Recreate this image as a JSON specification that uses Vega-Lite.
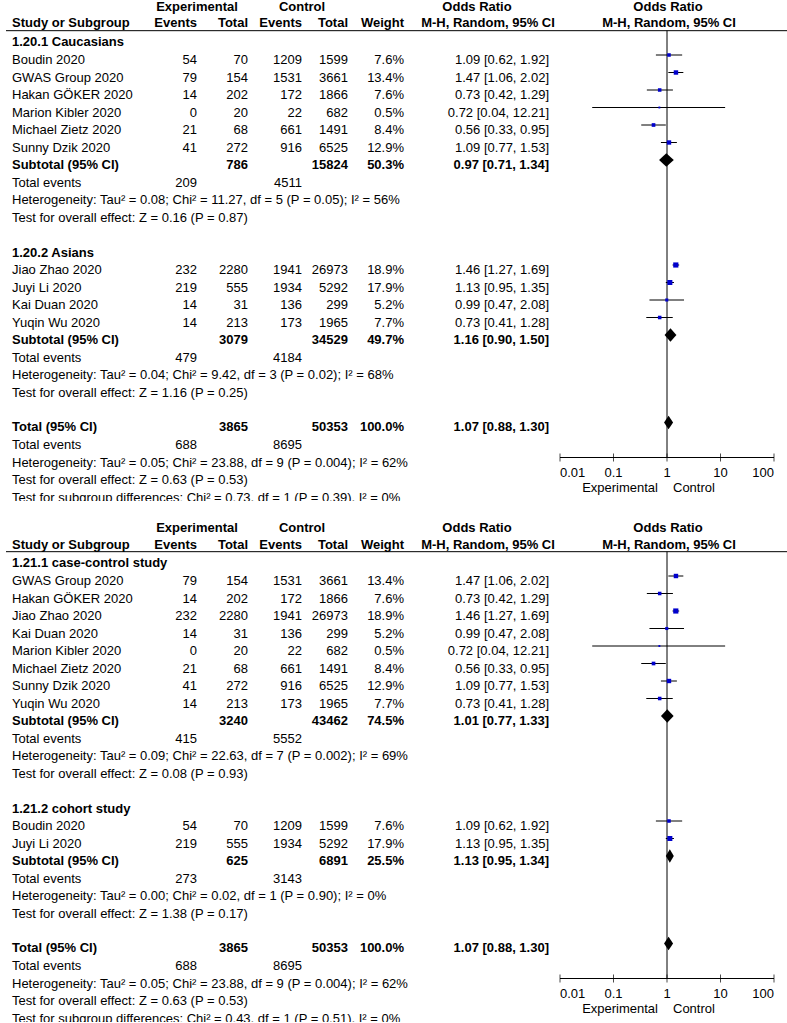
{
"$schema": "https://vega.github.io/schema/vega-lite/v6.json",
"background": "white",
"padding": 0,
"spacing": 20,
"config": {"view": {"stroke": null}, "text": {"font": "Liberation Sans", "fontSize": 13, "color": "#000000", "baseline": "alphabetic"}},
"datasets": {
"studies": [
{"panel":1,"row":1,"study":"Boudin 2020","e1":54,"n1":70,"e2":1209,"n2":1599,"w":0.076,"or":1.09,"lo":0.62,"hi":1.92,"ci":"1.09 [0.62, 1.92]"},
{"panel":1,"row":2,"study":"GWAS Group 2020","e1":79,"n1":154,"e2":1531,"n2":3661,"w":0.134,"or":1.47,"lo":1.06,"hi":2.02,"ci":"1.47 [1.06, 2.02]"},
{"panel":1,"row":3,"study":"Hakan GÖKER 2020","e1":14,"n1":202,"e2":172,"n2":1866,"w":0.076,"or":0.73,"lo":0.42,"hi":1.29,"ci":"0.73 [0.42, 1.29]"},
{"panel":1,"row":4,"study":"Marion Kibler 2020","e1":0,"n1":20,"e2":22,"n2":682,"w":0.005,"or":0.72,"lo":0.04,"hi":12.21,"ci":"0.72 [0.04, 12.21]"},
{"panel":1,"row":5,"study":"Michael Zietz 2020","e1":21,"n1":68,"e2":661,"n2":1491,"w":0.084,"or":0.56,"lo":0.33,"hi":0.95,"ci":"0.56 [0.33, 0.95]"},
{"panel":1,"row":6,"study":"Sunny Dzik 2020","e1":41,"n1":272,"e2":916,"n2":6525,"w":0.129,"or":1.09,"lo":0.77,"hi":1.53,"ci":"1.09 [0.77, 1.53]"},
{"panel":1,"row":13,"study":"Jiao Zhao 2020","e1":232,"n1":2280,"e2":1941,"n2":26973,"w":0.189,"or":1.46,"lo":1.27,"hi":1.69,"ci":"1.46 [1.27, 1.69]"},
{"panel":1,"row":14,"study":"Juyi Li 2020","e1":219,"n1":555,"e2":1934,"n2":5292,"w":0.179,"or":1.13,"lo":0.95,"hi":1.35,"ci":"1.13 [0.95, 1.35]"},
{"panel":1,"row":15,"study":"Kai Duan 2020","e1":14,"n1":31,"e2":136,"n2":299,"w":0.052,"or":0.99,"lo":0.47,"hi":2.08,"ci":"0.99 [0.47, 2.08]"},
{"panel":1,"row":16,"study":"Yuqin Wu 2020","e1":14,"n1":213,"e2":173,"n2":1965,"w":0.077,"or":0.73,"lo":0.41,"hi":1.28,"ci":"0.73 [0.41, 1.28]"},
{"panel":2,"row":1,"study":"GWAS Group 2020","e1":79,"n1":154,"e2":1531,"n2":3661,"w":0.134,"or":1.47,"lo":1.06,"hi":2.02,"ci":"1.47 [1.06, 2.02]"},
{"panel":2,"row":2,"study":"Hakan GÖKER 2020","e1":14,"n1":202,"e2":172,"n2":1866,"w":0.076,"or":0.73,"lo":0.42,"hi":1.29,"ci":"0.73 [0.42, 1.29]"},
{"panel":2,"row":3,"study":"Jiao Zhao 2020","e1":232,"n1":2280,"e2":1941,"n2":26973,"w":0.189,"or":1.46,"lo":1.27,"hi":1.69,"ci":"1.46 [1.27, 1.69]"},
{"panel":2,"row":4,"study":"Kai Duan 2020","e1":14,"n1":31,"e2":136,"n2":299,"w":0.052,"or":0.99,"lo":0.47,"hi":2.08,"ci":"0.99 [0.47, 2.08]"},
{"panel":2,"row":5,"study":"Marion Kibler 2020","e1":0,"n1":20,"e2":22,"n2":682,"w":0.005,"or":0.72,"lo":0.04,"hi":12.21,"ci":"0.72 [0.04, 12.21]"},
{"panel":2,"row":6,"study":"Michael Zietz 2020","e1":21,"n1":68,"e2":661,"n2":1491,"w":0.084,"or":0.56,"lo":0.33,"hi":0.95,"ci":"0.56 [0.33, 0.95]"},
{"panel":2,"row":7,"study":"Sunny Dzik 2020","e1":41,"n1":272,"e2":916,"n2":6525,"w":0.129,"or":1.09,"lo":0.77,"hi":1.53,"ci":"1.09 [0.77, 1.53]"},
{"panel":2,"row":8,"study":"Yuqin Wu 2020","e1":14,"n1":213,"e2":173,"n2":1965,"w":0.077,"or":0.73,"lo":0.41,"hi":1.28,"ci":"0.73 [0.41, 1.28]"},
{"panel":2,"row":15,"study":"Boudin 2020","e1":54,"n1":70,"e2":1209,"n2":1599,"w":0.076,"or":1.09,"lo":0.62,"hi":1.92,"ci":"1.09 [0.62, 1.92]"},
{"panel":2,"row":16,"study":"Juyi Li 2020","e1":219,"n1":555,"e2":1934,"n2":5292,"w":0.179,"or":1.13,"lo":0.95,"hi":1.35,"ci":"1.13 [0.95, 1.35]"}
],
"pooled": [
{"panel":1,"row":7,"label":"Subtotal (95% CI)","id":"p1a","n1":786,"n2":15824,"w":0.503,"or":0.97,"lo":0.71,"hi":1.34,"ci":"0.97 [0.71, 1.34]"},
{"panel":1,"row":17,"label":"Subtotal (95% CI)","id":"p1b","n1":3079,"n2":34529,"w":0.497,"or":1.16,"lo":0.90,"hi":1.50,"ci":"1.16 [0.90, 1.50]"},
{"panel":1,"row":22,"label":"Total (95% CI)","id":"tot","n1":3865,"n2":50353,"w":1.0,"or":1.07,"lo":0.88,"hi":1.30,"ci":"1.07 [0.88, 1.30]"},
{"panel":2,"row":9,"label":"Subtotal (95% CI)","id":"p2a","n1":3240,"n2":43462,"w":0.745,"or":1.01,"lo":0.77,"hi":1.33,"ci":"1.01 [0.77, 1.33]"},
{"panel":2,"row":17,"label":"Subtotal (95% CI)","id":"p2b","n1":625,"n2":6891,"w":0.255,"or":1.13,"lo":0.95,"hi":1.34,"ci":"1.13 [0.95, 1.34]"},
{"panel":2,"row":22,"label":"Total (95% CI)","id":"tot","n1":3865,"n2":50353,"w":1.0,"or":1.07,"lo":0.88,"hi":1.30,"ci":"1.07 [0.88, 1.30]"}
],
"events": [
{"panel":1,"row":8,"label":"Total events","e1":209,"e2":4511},
{"panel":1,"row":18,"label":"Total events","e1":479,"e2":4184},
{"panel":1,"row":23,"label":"Total events","e1":688,"e2":8695},
{"panel":2,"row":10,"label":"Total events","e1":415,"e2":5552},
{"panel":2,"row":18,"label":"Total events","e1":273,"e2":3143},
{"panel":2,"row":23,"label":"Total events","e1":688,"e2":8695}
],
"notes": [
{"panel":1,"row":0,"kind":"subgroup","text":"1.20.1 Caucasians"},
{"panel":1,"row":9,"kind":"stat","text":"Heterogeneity: Tau² = 0.08; Chi² = 11.27, df = 5 (P = 0.05); I² = 56%"},
{"panel":1,"row":10,"kind":"stat","text":"Test for overall effect: Z = 0.16 (P = 0.87)"},
{"panel":1,"row":12,"kind":"subgroup","text":"1.20.2 Asians"},
{"panel":1,"row":19,"kind":"stat","text":"Heterogeneity: Tau² = 0.04; Chi² = 9.42, df = 3 (P = 0.02); I² = 68%"},
{"panel":1,"row":20,"kind":"stat","text":"Test for overall effect: Z = 1.16 (P = 0.25)"},
{"panel":1,"row":24,"kind":"stat","text":"Heterogeneity: Tau² = 0.05; Chi² = 23.88, df = 9 (P = 0.004); I² = 62%"},
{"panel":1,"row":25,"kind":"stat","text":"Test for overall effect: Z = 0.63 (P = 0.53)"},
{"panel":1,"row":26,"kind":"stat","text":"Test for subgroup differences: Chi² = 0.73, df = 1 (P = 0.39), I² = 0%"},
{"panel":2,"row":0,"kind":"subgroup","text":"1.21.1 case-control study"},
{"panel":2,"row":11,"kind":"stat","text":"Heterogeneity: Tau² = 0.09; Chi² = 22.63, df = 7 (P = 0.002); I² = 69%"},
{"panel":2,"row":12,"kind":"stat","text":"Test for overall effect: Z = 0.08 (P = 0.93)"},
{"panel":2,"row":14,"kind":"subgroup","text":"1.21.2 cohort study"},
{"panel":2,"row":19,"kind":"stat","text":"Heterogeneity: Tau² = 0.00; Chi² = 0.02, df = 1 (P = 0.90); I² = 0%"},
{"panel":2,"row":20,"kind":"stat","text":"Test for overall effect: Z = 1.38 (P = 0.17)"},
{"panel":2,"row":24,"kind":"stat","text":"Heterogeneity: Tau² = 0.05; Chi² = 23.88, df = 9 (P = 0.004); I² = 62%"},
{"panel":2,"row":25,"kind":"stat","text":"Test for overall effect: Z = 0.63 (P = 0.53)"},
{"panel":2,"row":26,"kind":"stat","text":"Test for subgroup differences: Chi² = 0.43, df = 1 (P = 0.51), I² = 0%"}
],
"headers": [
{"row":-2,"col":1,"text":"Experimental"},
{"row":-2,"col":3,"text":"Control"},
{"row":-2,"col":6,"text":"Odds Ratio"},
{"row":-2,"col":8,"text":"Odds Ratio"},
{"row":-1,"col":0,"text":"Study or Subgroup"},
{"row":-1,"col":1,"text":"Events"},
{"row":-1,"col":2,"text":"Total"},
{"row":-1,"col":3,"text":"Events"},
{"row":-1,"col":4,"text":"Total"},
{"row":-1,"col":5,"text":"Weight"},
{"row":-1,"col":6,"text":"M-H, Random, 95% CI"},
{"row":-1,"col":8,"text":"M-H, Random, 95% CI"}
],
"ticks": [{"v":0.01},{"v":0.1},{"v":1},{"v":10},{"v":100}],
"reference": [{"or":1}],
"sides": [{"side":"Experimental"},{"side":"Control"}]
},
"vconcat": [
{
"width": 787, "height": 501,
"resolve": {"scale": {"x": "independent"}},
"layer": [
{"data":{"name":"headers"},"transform":[{"filter":"datum.col == 0"}],"mark":{"type":"rule","color":"#000000","strokeWidth":1},"encoding":{"x":{"datum":-1,"type":"quantitative","scale":{"domain":[-1,0,1,2,3,4,5,6,7],"range":[6,12,197,248,302,348,404,549,787],"nice":false,"zero":false},"axis":null},"x2":{"datum":7},"y":{"datum":-0.39,"type":"quantitative","scale":{"domain":[-2.142857,26.485714],"reverse":true,"nice":false,"zero":false},"axis":null}}},
{"data":{"name":"headers"},"transform":[{"filter":"datum.col == 0"}],"mark":{"type":"text","align":"left","fontWeight":"bold","dy":7.5,"clip":true},"encoding":{"x":{"field":"col","type":"quantitative","scale":{"domain":[-1,0,1,2,3,4,5,6,7],"range":[6,12,197,248,302,348,404,549,787],"nice":false,"zero":false},"axis":null},"y":{"field":"row","type":"quantitative","scale":{"domain":[-2.142857,26.485714],"reverse":true,"nice":false,"zero":false},"axis":null},"text":{"field":"text","type":"nominal"}}},
{"data":{"name":"headers"},"transform":[{"filter":"datum.row == -1 && datum.col >= 1 && datum.col <= 5"}],"mark":{"type":"text","align":"right","fontWeight":"bold","dy":7.5,"clip":true},"encoding":{"x":{"field":"col","type":"quantitative","scale":{"domain":[-1,0,1,2,3,4,5,6,7],"range":[6,12,197,248,302,348,404,549,787],"nice":false,"zero":false},"axis":null},"y":{"field":"row","type":"quantitative","scale":{"domain":[-2.142857,26.485714],"reverse":true,"nice":false,"zero":false},"axis":null},"text":{"field":"text","type":"nominal"}}},
{"data":{"name":"headers"},"transform":[{"filter":"datum.row == -2 && datum.col <= 3"}],"mark":{"type":"text","align":"center","fontWeight":"bold","dy":8.5,"clip":true},"encoding":{"x":{"field":"col","type":"quantitative","scale":{"domain":[-1,0,1,2,3,4,5,6,7],"range":[6,12,197,248,302,348,404,549,787],"nice":false,"zero":false},"axis":null},"y":{"field":"row","type":"quantitative","scale":{"domain":[-2.142857,26.485714],"reverse":true,"nice":false,"zero":false},"axis":null},"text":{"field":"text","type":"nominal"}}},
{"data":{"name":"headers"},"transform":[{"filter":"datum.row == -2 && datum.col == 6"}],"mark":{"type":"text","align":"center","fontWeight":"bold","dy":8.5,"dx":-72,"clip":true},"encoding":{"x":{"field":"col","type":"quantitative","scale":{"domain":[-1,0,1,2,3,4,5,6,7],"range":[6,12,197,248,302,348,404,549,787],"nice":false,"zero":false},"axis":null},"y":{"field":"row","type":"quantitative","scale":{"domain":[-2.142857,26.485714],"reverse":true,"nice":false,"zero":false},"axis":null},"text":{"field":"text","type":"nominal"}}},
{"data":{"name":"headers"},"transform":[{"filter":"datum.row == -1 && datum.col == 6"}],"mark":{"type":"text","align":"center","fontWeight":"bold","dy":7.5,"dx":-61,"clip":true},"encoding":{"x":{"field":"col","type":"quantitative","scale":{"domain":[-1,0,1,2,3,4,5,6,7],"range":[6,12,197,248,302,348,404,549,787],"nice":false,"zero":false},"axis":null},"y":{"field":"row","type":"quantitative","scale":{"domain":[-2.142857,26.485714],"reverse":true,"nice":false,"zero":false},"axis":null},"text":{"field":"text","type":"nominal"}}},
{"data":{"name":"headers"},"transform":[{"filter":"datum.col == 8 && datum.row == -2"}],"mark":{"type":"text","align":"center","fontWeight":"bold","dy":8.5,"dx":1,"clip":true},"encoding":{"x":{"datum":1,"type":"quantitative","scale":{"type":"log","domain":[0.01,100],"range":[560,774],"nice":false},"axis":null},"y":{"field":"row","type":"quantitative","scale":{"domain":[-2.142857,26.485714],"reverse":true,"nice":false,"zero":false},"axis":null},"text":{"field":"text","type":"nominal"}}},
{"data":{"name":"headers"},"transform":[{"filter":"datum.col == 8 && datum.row == -1"}],"mark":{"type":"text","align":"center","fontWeight":"bold","dy":7.5,"dx":2,"clip":true},"encoding":{"x":{"datum":1,"type":"quantitative","scale":{"type":"log","domain":[0.01,100],"range":[560,774],"nice":false},"axis":null},"y":{"field":"row","type":"quantitative","scale":{"domain":[-2.142857,26.485714],"reverse":true,"nice":false,"zero":false},"axis":null},"text":{"field":"text","type":"nominal"}}},
{"data":{"name":"studies"},"transform":[{"filter":"datum.panel == 1"}],"mark":{"type":"text","align":"left","dy":9,"clip":true},"encoding":{"x":{"datum":0,"type":"quantitative","scale":{"domain":[-1,0,1,2,3,4,5,6,7],"range":[6,12,197,248,302,348,404,549,787],"nice":false,"zero":false},"axis":null},"y":{"field":"row","type":"quantitative","scale":{"domain":[-2.142857,26.485714],"reverse":true,"nice":false,"zero":false},"axis":null},"text":{"field":"study","type":"nominal"}}},
{"data":{"name":"studies"},"transform":[{"filter":"datum.panel == 1"}],"mark":{"type":"text","align":"right","dy":9,"clip":true},"encoding":{"x":{"datum":1,"type":"quantitative","scale":{"domain":[-1,0,1,2,3,4,5,6,7],"range":[6,12,197,248,302,348,404,549,787],"nice":false,"zero":false},"axis":null},"y":{"field":"row","type":"quantitative","scale":{"domain":[-2.142857,26.485714],"reverse":true,"nice":false,"zero":false},"axis":null},"text":{"field":"e1","type":"quantitative","format":"d"}}},
{"data":{"name":"studies"},"transform":[{"filter":"datum.panel == 1"}],"mark":{"type":"text","align":"right","dy":9,"clip":true},"encoding":{"x":{"datum":2,"type":"quantitative","scale":{"domain":[-1,0,1,2,3,4,5,6,7],"range":[6,12,197,248,302,348,404,549,787],"nice":false,"zero":false},"axis":null},"y":{"field":"row","type":"quantitative","scale":{"domain":[-2.142857,26.485714],"reverse":true,"nice":false,"zero":false},"axis":null},"text":{"field":"n1","type":"quantitative","format":"d"}}},
{"data":{"name":"studies"},"transform":[{"filter":"datum.panel == 1"}],"mark":{"type":"text","align":"right","dy":9,"clip":true},"encoding":{"x":{"datum":3,"type":"quantitative","scale":{"domain":[-1,0,1,2,3,4,5,6,7],"range":[6,12,197,248,302,348,404,549,787],"nice":false,"zero":false},"axis":null},"y":{"field":"row","type":"quantitative","scale":{"domain":[-2.142857,26.485714],"reverse":true,"nice":false,"zero":false},"axis":null},"text":{"field":"e2","type":"quantitative","format":"d"}}},
{"data":{"name":"studies"},"transform":[{"filter":"datum.panel == 1"}],"mark":{"type":"text","align":"right","dy":9,"clip":true},"encoding":{"x":{"datum":4,"type":"quantitative","scale":{"domain":[-1,0,1,2,3,4,5,6,7],"range":[6,12,197,248,302,348,404,549,787],"nice":false,"zero":false},"axis":null},"y":{"field":"row","type":"quantitative","scale":{"domain":[-2.142857,26.485714],"reverse":true,"nice":false,"zero":false},"axis":null},"text":{"field":"n2","type":"quantitative","format":"d"}}},
{"data":{"name":"studies"},"transform":[{"filter":"datum.panel == 1"}],"mark":{"type":"text","align":"right","dy":9,"clip":true},"encoding":{"x":{"datum":5,"type":"quantitative","scale":{"domain":[-1,0,1,2,3,4,5,6,7],"range":[6,12,197,248,302,348,404,549,787],"nice":false,"zero":false},"axis":null},"y":{"field":"row","type":"quantitative","scale":{"domain":[-2.142857,26.485714],"reverse":true,"nice":false,"zero":false},"axis":null},"text":{"field":"w","type":"quantitative","format":".1%"}}},
{"data":{"name":"studies"},"transform":[{"filter":"datum.panel == 1"}],"mark":{"type":"text","align":"right","dy":9,"clip":true},"encoding":{"x":{"datum":6,"type":"quantitative","scale":{"domain":[-1,0,1,2,3,4,5,6,7],"range":[6,12,197,248,302,348,404,549,787],"nice":false,"zero":false},"axis":null},"y":{"field":"row","type":"quantitative","scale":{"domain":[-2.142857,26.485714],"reverse":true,"nice":false,"zero":false},"axis":null},"text":{"field":"ci","type":"nominal"}}},
{"data":{"name":"pooled"},"transform":[{"filter":"datum.panel == 1"}],"mark":{"type":"text","align":"left","fontWeight":"bold","dy":8.5,"clip":true},"encoding":{"x":{"datum":0,"type":"quantitative","scale":{"domain":[-1,0,1,2,3,4,5,6,7],"range":[6,12,197,248,302,348,404,549,787],"nice":false,"zero":false},"axis":null},"y":{"field":"row","type":"quantitative","scale":{"domain":[-2.142857,26.485714],"reverse":true,"nice":false,"zero":false},"axis":null},"text":{"field":"label","type":"nominal"}}},
{"data":{"name":"pooled"},"transform":[{"filter":"datum.panel == 1"}],"mark":{"type":"text","align":"right","fontWeight":"bold","dy":8.5,"clip":true},"encoding":{"x":{"datum":2,"type":"quantitative","scale":{"domain":[-1,0,1,2,3,4,5,6,7],"range":[6,12,197,248,302,348,404,549,787],"nice":false,"zero":false},"axis":null},"y":{"field":"row","type":"quantitative","scale":{"domain":[-2.142857,26.485714],"reverse":true,"nice":false,"zero":false},"axis":null},"text":{"field":"n1","type":"quantitative","format":"d"}}},
{"data":{"name":"pooled"},"transform":[{"filter":"datum.panel == 1"}],"mark":{"type":"text","align":"right","fontWeight":"bold","dy":8.5,"clip":true},"encoding":{"x":{"datum":4,"type":"quantitative","scale":{"domain":[-1,0,1,2,3,4,5,6,7],"range":[6,12,197,248,302,348,404,549,787],"nice":false,"zero":false},"axis":null},"y":{"field":"row","type":"quantitative","scale":{"domain":[-2.142857,26.485714],"reverse":true,"nice":false,"zero":false},"axis":null},"text":{"field":"n2","type":"quantitative","format":"d"}}},
{"data":{"name":"pooled"},"transform":[{"filter":"datum.panel == 1"}],"mark":{"type":"text","align":"right","fontWeight":"bold","dy":8.5,"clip":true},"encoding":{"x":{"datum":5,"type":"quantitative","scale":{"domain":[-1,0,1,2,3,4,5,6,7],"range":[6,12,197,248,302,348,404,549,787],"nice":false,"zero":false},"axis":null},"y":{"field":"row","type":"quantitative","scale":{"domain":[-2.142857,26.485714],"reverse":true,"nice":false,"zero":false},"axis":null},"text":{"field":"w","type":"quantitative","format":".1%"}}},
{"data":{"name":"pooled"},"transform":[{"filter":"datum.panel == 1"}],"mark":{"type":"text","align":"right","fontWeight":"bold","dy":8.5,"clip":true},"encoding":{"x":{"datum":6,"type":"quantitative","scale":{"domain":[-1,0,1,2,3,4,5,6,7],"range":[6,12,197,248,302,348,404,549,787],"nice":false,"zero":false},"axis":null},"y":{"field":"row","type":"quantitative","scale":{"domain":[-2.142857,26.485714],"reverse":true,"nice":false,"zero":false},"axis":null},"text":{"field":"ci","type":"nominal"}}},
{"data":{"name":"events"},"transform":[{"filter":"datum.panel == 1"}],"mark":{"type":"text","align":"left","dy":9,"clip":true},"encoding":{"x":{"datum":0,"type":"quantitative","scale":{"domain":[-1,0,1,2,3,4,5,6,7],"range":[6,12,197,248,302,348,404,549,787],"nice":false,"zero":false},"axis":null},"y":{"field":"row","type":"quantitative","scale":{"domain":[-2.142857,26.485714],"reverse":true,"nice":false,"zero":false},"axis":null},"text":{"field":"label","type":"nominal"}}},
{"data":{"name":"events"},"transform":[{"filter":"datum.panel == 1"}],"mark":{"type":"text","align":"right","dy":9,"clip":true},"encoding":{"x":{"datum":1,"type":"quantitative","scale":{"domain":[-1,0,1,2,3,4,5,6,7],"range":[6,12,197,248,302,348,404,549,787],"nice":false,"zero":false},"axis":null},"y":{"field":"row","type":"quantitative","scale":{"domain":[-2.142857,26.485714],"reverse":true,"nice":false,"zero":false},"axis":null},"text":{"field":"e1","type":"quantitative","format":"d"}}},
{"data":{"name":"events"},"transform":[{"filter":"datum.panel == 1"}],"mark":{"type":"text","align":"right","dy":9,"clip":true},"encoding":{"x":{"datum":3,"type":"quantitative","scale":{"domain":[-1,0,1,2,3,4,5,6,7],"range":[6,12,197,248,302,348,404,549,787],"nice":false,"zero":false},"axis":null},"y":{"field":"row","type":"quantitative","scale":{"domain":[-2.142857,26.485714],"reverse":true,"nice":false,"zero":false},"axis":null},"text":{"field":"e2","type":"quantitative","format":"d"}}},
{"data":{"name":"notes"},"transform":[{"filter":"datum.panel == 1 && datum.kind == 'subgroup'"}],"mark":{"type":"text","align":"left","fontWeight":"bold","dy":9,"clip":true},"encoding":{"x":{"datum":0,"type":"quantitative","scale":{"domain":[-1,0,1,2,3,4,5,6,7],"range":[6,12,197,248,302,348,404,549,787],"nice":false,"zero":false},"axis":null},"y":{"field":"row","type":"quantitative","scale":{"domain":[-2.142857,26.485714],"reverse":true,"nice":false,"zero":false},"axis":null},"text":{"field":"text","type":"nominal"}}},
{"data":{"name":"notes"},"transform":[{"filter":"datum.panel == 1 && datum.kind == 'stat'"}],"mark":{"type":"text","align":"left","dy":9,"clip":true},"encoding":{"x":{"datum":0,"type":"quantitative","scale":{"domain":[-1,0,1,2,3,4,5,6,7],"range":[6,12,197,248,302,348,404,549,787],"nice":false,"zero":false},"axis":null},"y":{"field":"row","type":"quantitative","scale":{"domain":[-2.142857,26.485714],"reverse":true,"nice":false,"zero":false},"axis":null},"text":{"field":"text","type":"nominal"}}},
{"data":{"name":"reference"},"mark":{"type":"rule","color":"#000000","strokeWidth":1},"encoding":{"x":{"field":"or","type":"quantitative","scale":{"type":"log","domain":[0.01,100],"range":[560,774],"nice":false},"axis":null},"y":{"datum":-0.39,"type":"quantitative","scale":{"domain":[-2.142857,26.485714],"reverse":true,"nice":false,"zero":false},"axis":null},"y2":{"datum":24}}},
{"data":{"name":"ticks"},"mark":{"type":"rule","color":"#000000","strokeWidth":1},"encoding":{"x":{"aggregate":"min","field":"v","type":"quantitative","scale":{"type":"log","domain":[0.01,100],"range":[560,774],"nice":false},"axis":null},"x2":{"aggregate":"max","field":"v"},"y":{"datum":24,"type":"quantitative","scale":{"domain":[-2.142857,26.485714],"reverse":true,"nice":false,"zero":false},"axis":null}}},
{"data":{"name":"ticks"},"mark":{"type":"tick","orient":"vertical","size":8,"thickness":1,"color":"#000000"},"encoding":{"x":{"field":"v","type":"quantitative","scale":{"type":"log","domain":[0.01,100],"range":[560,774],"nice":false},"axis":null},"y":{"datum":24,"type":"quantitative","scale":{"domain":[-2.142857,26.485714],"reverse":true,"nice":false,"zero":false},"axis":null}}},
{"data":{"name":"ticks"},"transform":[{"filter":"datum.v > 0.01 && datum.v < 100"}],"mark":{"type":"text","align":"center","dy":19,"clip":true},"encoding":{"x":{"field":"v","type":"quantitative","scale":{"type":"log","domain":[0.01,100],"range":[560,774],"nice":false},"axis":null},"y":{"datum":24,"type":"quantitative","scale":{"domain":[-2.142857,26.485714],"reverse":true,"nice":false,"zero":false},"axis":null},"text":{"field":"v","type":"quantitative","format":"~g"}}},
{"data":{"name":"ticks"},"transform":[{"filter":"datum.v == 0.01"}],"mark":{"type":"text","align":"left","dy":19,"clip":true},"encoding":{"x":{"field":"v","type":"quantitative","scale":{"type":"log","domain":[0.01,100],"range":[560,774],"nice":false},"axis":null},"y":{"datum":24,"type":"quantitative","scale":{"domain":[-2.142857,26.485714],"reverse":true,"nice":false,"zero":false},"axis":null},"text":{"field":"v","type":"quantitative","format":"~g"}}},
{"data":{"name":"ticks"},"transform":[{"filter":"datum.v == 100"}],"mark":{"type":"text","align":"right","dy":19,"clip":true},"encoding":{"x":{"field":"v","type":"quantitative","scale":{"type":"log","domain":[0.01,100],"range":[560,774],"nice":false},"axis":null},"y":{"datum":24,"type":"quantitative","scale":{"domain":[-2.142857,26.485714],"reverse":true,"nice":false,"zero":false},"axis":null},"text":{"field":"v","type":"quantitative","format":"~g"}}},
{"data":{"name":"sides"},"transform":[{"filter":"datum.side == 'Experimental'"}],"mark":{"type":"text","align":"right","dx":-9,"dy":34,"clip":true},"encoding":{"x":{"datum":1,"type":"quantitative","scale":{"type":"log","domain":[0.01,100],"range":[560,774],"nice":false},"axis":null},"y":{"datum":24,"type":"quantitative","scale":{"domain":[-2.142857,26.485714],"reverse":true,"nice":false,"zero":false},"axis":null},"text":{"field":"side","type":"nominal"}}},
{"data":{"name":"sides"},"transform":[{"filter":"datum.side == 'Control'"}],"mark":{"type":"text","align":"left","dx":6,"dy":34,"clip":true},"encoding":{"x":{"datum":1,"type":"quantitative","scale":{"type":"log","domain":[0.01,100],"range":[560,774],"nice":false},"axis":null},"y":{"datum":24,"type":"quantitative","scale":{"domain":[-2.142857,26.485714],"reverse":true,"nice":false,"zero":false},"axis":null},"text":{"field":"side","type":"nominal"}}},
{"data":{"name":"studies"},"transform":[{"filter":"datum.panel == 1"}],"mark":{"type":"rule","color":"#000000","strokeWidth":1},"encoding":{"x":{"field":"lo","type":"quantitative","scale":{"type":"log","domain":[0.01,100],"range":[560,774],"nice":false},"axis":null},"x2":{"field":"hi"},"y":{"field":"row","type":"quantitative","scale":{"domain":[-2.142857,26.485714],"reverse":true,"nice":false,"zero":false},"axis":null}}},
{"data":{"name":"studies"},"transform":[{"filter":"datum.panel == 1"}],"mark":{"type":"square","filled":true,"color":"#0000CC","opacity":1},"encoding":{"x":{"field":"or","type":"quantitative","scale":{"type":"log","domain":[0.01,100],"range":[560,774],"nice":false},"axis":null},"y":{"field":"row","type":"quantitative","scale":{"domain":[-2.142857,26.485714],"reverse":true,"nice":false,"zero":false},"axis":null},"size":{"field":"w","type":"quantitative","scale":{"domain":[0,0.2],"range":[3,28]},"legend":null}}},
{"data":{"name":"pooled"},"transform":[{"filter":"datum.panel == 1"}],"mark":{"type":"point","filled":true,"color":"#000000","opacity":1,"size":225},"encoding":{"x":{"field":"or","type":"quantitative","scale":{"type":"log","domain":[0.01,100],"range":[560,774],"nice":false},"axis":null},"y":{"field":"row","type":"quantitative","scale":{"domain":[-2.142857,26.485714],"reverse":true,"nice":false,"zero":false},"axis":null},"shape":{"field":"id","type":"nominal","scale":{"domain":["p1a","p1b","p2a","p2b","tot"],"range":["M-0.967,0L0,-0.9L1.001,0L0,0.9Z","M-0.787,0L0,-0.9L0.796,0L0,0.9Z","M-0.84,0L0,-0.9L0.852,0L0,0.9Z","M-0.537,0L0,-0.9L0.528,0L0,0.9Z","M-0.605,0L0,-0.9L0.603,0L0,0.9Z"]},"legend":null}}}
]
},
{
"width": 787, "height": 501,
"resolve": {"scale": {"x": "independent"}},
"layer": [
{"data":{"name":"headers"},"transform":[{"filter":"datum.col == 0"}],"mark":{"type":"rule","color":"#000000","strokeWidth":1},"encoding":{"x":{"datum":-1,"type":"quantitative","scale":{"domain":[-1,0,1,2,3,4,5,6,7],"range":[6,12,197,248,302,348,404,549,787],"nice":false,"zero":false},"axis":null},"x2":{"datum":7},"y":{"datum":-0.39,"type":"quantitative","scale":{"domain":[-2.142857,26.485714],"reverse":true,"nice":false,"zero":false},"axis":null}}},
{"data":{"name":"headers"},"transform":[{"filter":"datum.col == 0"}],"mark":{"type":"text","align":"left","fontWeight":"bold","dy":7.5,"clip":true},"encoding":{"x":{"field":"col","type":"quantitative","scale":{"domain":[-1,0,1,2,3,4,5,6,7],"range":[6,12,197,248,302,348,404,549,787],"nice":false,"zero":false},"axis":null},"y":{"field":"row","type":"quantitative","scale":{"domain":[-2.142857,26.485714],"reverse":true,"nice":false,"zero":false},"axis":null},"text":{"field":"text","type":"nominal"}}},
{"data":{"name":"headers"},"transform":[{"filter":"datum.row == -1 && datum.col >= 1 && datum.col <= 5"}],"mark":{"type":"text","align":"right","fontWeight":"bold","dy":7.5,"clip":true},"encoding":{"x":{"field":"col","type":"quantitative","scale":{"domain":[-1,0,1,2,3,4,5,6,7],"range":[6,12,197,248,302,348,404,549,787],"nice":false,"zero":false},"axis":null},"y":{"field":"row","type":"quantitative","scale":{"domain":[-2.142857,26.485714],"reverse":true,"nice":false,"zero":false},"axis":null},"text":{"field":"text","type":"nominal"}}},
{"data":{"name":"headers"},"transform":[{"filter":"datum.row == -2 && datum.col <= 3"}],"mark":{"type":"text","align":"center","fontWeight":"bold","dy":8.5,"clip":true},"encoding":{"x":{"field":"col","type":"quantitative","scale":{"domain":[-1,0,1,2,3,4,5,6,7],"range":[6,12,197,248,302,348,404,549,787],"nice":false,"zero":false},"axis":null},"y":{"field":"row","type":"quantitative","scale":{"domain":[-2.142857,26.485714],"reverse":true,"nice":false,"zero":false},"axis":null},"text":{"field":"text","type":"nominal"}}},
{"data":{"name":"headers"},"transform":[{"filter":"datum.row == -2 && datum.col == 6"}],"mark":{"type":"text","align":"center","fontWeight":"bold","dy":8.5,"dx":-72,"clip":true},"encoding":{"x":{"field":"col","type":"quantitative","scale":{"domain":[-1,0,1,2,3,4,5,6,7],"range":[6,12,197,248,302,348,404,549,787],"nice":false,"zero":false},"axis":null},"y":{"field":"row","type":"quantitative","scale":{"domain":[-2.142857,26.485714],"reverse":true,"nice":false,"zero":false},"axis":null},"text":{"field":"text","type":"nominal"}}},
{"data":{"name":"headers"},"transform":[{"filter":"datum.row == -1 && datum.col == 6"}],"mark":{"type":"text","align":"center","fontWeight":"bold","dy":7.5,"dx":-61,"clip":true},"encoding":{"x":{"field":"col","type":"quantitative","scale":{"domain":[-1,0,1,2,3,4,5,6,7],"range":[6,12,197,248,302,348,404,549,787],"nice":false,"zero":false},"axis":null},"y":{"field":"row","type":"quantitative","scale":{"domain":[-2.142857,26.485714],"reverse":true,"nice":false,"zero":false},"axis":null},"text":{"field":"text","type":"nominal"}}},
{"data":{"name":"headers"},"transform":[{"filter":"datum.col == 8 && datum.row == -2"}],"mark":{"type":"text","align":"center","fontWeight":"bold","dy":8.5,"dx":1,"clip":true},"encoding":{"x":{"datum":1,"type":"quantitative","scale":{"type":"log","domain":[0.01,100],"range":[560,774],"nice":false},"axis":null},"y":{"field":"row","type":"quantitative","scale":{"domain":[-2.142857,26.485714],"reverse":true,"nice":false,"zero":false},"axis":null},"text":{"field":"text","type":"nominal"}}},
{"data":{"name":"headers"},"transform":[{"filter":"datum.col == 8 && datum.row == -1"}],"mark":{"type":"text","align":"center","fontWeight":"bold","dy":7.5,"dx":2,"clip":true},"encoding":{"x":{"datum":1,"type":"quantitative","scale":{"type":"log","domain":[0.01,100],"range":[560,774],"nice":false},"axis":null},"y":{"field":"row","type":"quantitative","scale":{"domain":[-2.142857,26.485714],"reverse":true,"nice":false,"zero":false},"axis":null},"text":{"field":"text","type":"nominal"}}},
{"data":{"name":"studies"},"transform":[{"filter":"datum.panel == 2"}],"mark":{"type":"text","align":"left","dy":9,"clip":true},"encoding":{"x":{"datum":0,"type":"quantitative","scale":{"domain":[-1,0,1,2,3,4,5,6,7],"range":[6,12,197,248,302,348,404,549,787],"nice":false,"zero":false},"axis":null},"y":{"field":"row","type":"quantitative","scale":{"domain":[-2.142857,26.485714],"reverse":true,"nice":false,"zero":false},"axis":null},"text":{"field":"study","type":"nominal"}}},
{"data":{"name":"studies"},"transform":[{"filter":"datum.panel == 2"}],"mark":{"type":"text","align":"right","dy":9,"clip":true},"encoding":{"x":{"datum":1,"type":"quantitative","scale":{"domain":[-1,0,1,2,3,4,5,6,7],"range":[6,12,197,248,302,348,404,549,787],"nice":false,"zero":false},"axis":null},"y":{"field":"row","type":"quantitative","scale":{"domain":[-2.142857,26.485714],"reverse":true,"nice":false,"zero":false},"axis":null},"text":{"field":"e1","type":"quantitative","format":"d"}}},
{"data":{"name":"studies"},"transform":[{"filter":"datum.panel == 2"}],"mark":{"type":"text","align":"right","dy":9,"clip":true},"encoding":{"x":{"datum":2,"type":"quantitative","scale":{"domain":[-1,0,1,2,3,4,5,6,7],"range":[6,12,197,248,302,348,404,549,787],"nice":false,"zero":false},"axis":null},"y":{"field":"row","type":"quantitative","scale":{"domain":[-2.142857,26.485714],"reverse":true,"nice":false,"zero":false},"axis":null},"text":{"field":"n1","type":"quantitative","format":"d"}}},
{"data":{"name":"studies"},"transform":[{"filter":"datum.panel == 2"}],"mark":{"type":"text","align":"right","dy":9,"clip":true},"encoding":{"x":{"datum":3,"type":"quantitative","scale":{"domain":[-1,0,1,2,3,4,5,6,7],"range":[6,12,197,248,302,348,404,549,787],"nice":false,"zero":false},"axis":null},"y":{"field":"row","type":"quantitative","scale":{"domain":[-2.142857,26.485714],"reverse":true,"nice":false,"zero":false},"axis":null},"text":{"field":"e2","type":"quantitative","format":"d"}}},
{"data":{"name":"studies"},"transform":[{"filter":"datum.panel == 2"}],"mark":{"type":"text","align":"right","dy":9,"clip":true},"encoding":{"x":{"datum":4,"type":"quantitative","scale":{"domain":[-1,0,1,2,3,4,5,6,7],"range":[6,12,197,248,302,348,404,549,787],"nice":false,"zero":false},"axis":null},"y":{"field":"row","type":"quantitative","scale":{"domain":[-2.142857,26.485714],"reverse":true,"nice":false,"zero":false},"axis":null},"text":{"field":"n2","type":"quantitative","format":"d"}}},
{"data":{"name":"studies"},"transform":[{"filter":"datum.panel == 2"}],"mark":{"type":"text","align":"right","dy":9,"clip":true},"encoding":{"x":{"datum":5,"type":"quantitative","scale":{"domain":[-1,0,1,2,3,4,5,6,7],"range":[6,12,197,248,302,348,404,549,787],"nice":false,"zero":false},"axis":null},"y":{"field":"row","type":"quantitative","scale":{"domain":[-2.142857,26.485714],"reverse":true,"nice":false,"zero":false},"axis":null},"text":{"field":"w","type":"quantitative","format":".1%"}}},
{"data":{"name":"studies"},"transform":[{"filter":"datum.panel == 2"}],"mark":{"type":"text","align":"right","dy":9,"clip":true},"encoding":{"x":{"datum":6,"type":"quantitative","scale":{"domain":[-1,0,1,2,3,4,5,6,7],"range":[6,12,197,248,302,348,404,549,787],"nice":false,"zero":false},"axis":null},"y":{"field":"row","type":"quantitative","scale":{"domain":[-2.142857,26.485714],"reverse":true,"nice":false,"zero":false},"axis":null},"text":{"field":"ci","type":"nominal"}}},
{"data":{"name":"pooled"},"transform":[{"filter":"datum.panel == 2"}],"mark":{"type":"text","align":"left","fontWeight":"bold","dy":8.5,"clip":true},"encoding":{"x":{"datum":0,"type":"quantitative","scale":{"domain":[-1,0,1,2,3,4,5,6,7],"range":[6,12,197,248,302,348,404,549,787],"nice":false,"zero":false},"axis":null},"y":{"field":"row","type":"quantitative","scale":{"domain":[-2.142857,26.485714],"reverse":true,"nice":false,"zero":false},"axis":null},"text":{"field":"label","type":"nominal"}}},
{"data":{"name":"pooled"},"transform":[{"filter":"datum.panel == 2"}],"mark":{"type":"text","align":"right","fontWeight":"bold","dy":8.5,"clip":true},"encoding":{"x":{"datum":2,"type":"quantitative","scale":{"domain":[-1,0,1,2,3,4,5,6,7],"range":[6,12,197,248,302,348,404,549,787],"nice":false,"zero":false},"axis":null},"y":{"field":"row","type":"quantitative","scale":{"domain":[-2.142857,26.485714],"reverse":true,"nice":false,"zero":false},"axis":null},"text":{"field":"n1","type":"quantitative","format":"d"}}},
{"data":{"name":"pooled"},"transform":[{"filter":"datum.panel == 2"}],"mark":{"type":"text","align":"right","fontWeight":"bold","dy":8.5,"clip":true},"encoding":{"x":{"datum":4,"type":"quantitative","scale":{"domain":[-1,0,1,2,3,4,5,6,7],"range":[6,12,197,248,302,348,404,549,787],"nice":false,"zero":false},"axis":null},"y":{"field":"row","type":"quantitative","scale":{"domain":[-2.142857,26.485714],"reverse":true,"nice":false,"zero":false},"axis":null},"text":{"field":"n2","type":"quantitative","format":"d"}}},
{"data":{"name":"pooled"},"transform":[{"filter":"datum.panel == 2"}],"mark":{"type":"text","align":"right","fontWeight":"bold","dy":8.5,"clip":true},"encoding":{"x":{"datum":5,"type":"quantitative","scale":{"domain":[-1,0,1,2,3,4,5,6,7],"range":[6,12,197,248,302,348,404,549,787],"nice":false,"zero":false},"axis":null},"y":{"field":"row","type":"quantitative","scale":{"domain":[-2.142857,26.485714],"reverse":true,"nice":false,"zero":false},"axis":null},"text":{"field":"w","type":"quantitative","format":".1%"}}},
{"data":{"name":"pooled"},"transform":[{"filter":"datum.panel == 2"}],"mark":{"type":"text","align":"right","fontWeight":"bold","dy":8.5,"clip":true},"encoding":{"x":{"datum":6,"type":"quantitative","scale":{"domain":[-1,0,1,2,3,4,5,6,7],"range":[6,12,197,248,302,348,404,549,787],"nice":false,"zero":false},"axis":null},"y":{"field":"row","type":"quantitative","scale":{"domain":[-2.142857,26.485714],"reverse":true,"nice":false,"zero":false},"axis":null},"text":{"field":"ci","type":"nominal"}}},
{"data":{"name":"events"},"transform":[{"filter":"datum.panel == 2"}],"mark":{"type":"text","align":"left","dy":9,"clip":true},"encoding":{"x":{"datum":0,"type":"quantitative","scale":{"domain":[-1,0,1,2,3,4,5,6,7],"range":[6,12,197,248,302,348,404,549,787],"nice":false,"zero":false},"axis":null},"y":{"field":"row","type":"quantitative","scale":{"domain":[-2.142857,26.485714],"reverse":true,"nice":false,"zero":false},"axis":null},"text":{"field":"label","type":"nominal"}}},
{"data":{"name":"events"},"transform":[{"filter":"datum.panel == 2"}],"mark":{"type":"text","align":"right","dy":9,"clip":true},"encoding":{"x":{"datum":1,"type":"quantitative","scale":{"domain":[-1,0,1,2,3,4,5,6,7],"range":[6,12,197,248,302,348,404,549,787],"nice":false,"zero":false},"axis":null},"y":{"field":"row","type":"quantitative","scale":{"domain":[-2.142857,26.485714],"reverse":true,"nice":false,"zero":false},"axis":null},"text":{"field":"e1","type":"quantitative","format":"d"}}},
{"data":{"name":"events"},"transform":[{"filter":"datum.panel == 2"}],"mark":{"type":"text","align":"right","dy":9,"clip":true},"encoding":{"x":{"datum":3,"type":"quantitative","scale":{"domain":[-1,0,1,2,3,4,5,6,7],"range":[6,12,197,248,302,348,404,549,787],"nice":false,"zero":false},"axis":null},"y":{"field":"row","type":"quantitative","scale":{"domain":[-2.142857,26.485714],"reverse":true,"nice":false,"zero":false},"axis":null},"text":{"field":"e2","type":"quantitative","format":"d"}}},
{"data":{"name":"notes"},"transform":[{"filter":"datum.panel == 2 && datum.kind == 'subgroup'"}],"mark":{"type":"text","align":"left","fontWeight":"bold","dy":9,"clip":true},"encoding":{"x":{"datum":0,"type":"quantitative","scale":{"domain":[-1,0,1,2,3,4,5,6,7],"range":[6,12,197,248,302,348,404,549,787],"nice":false,"zero":false},"axis":null},"y":{"field":"row","type":"quantitative","scale":{"domain":[-2.142857,26.485714],"reverse":true,"nice":false,"zero":false},"axis":null},"text":{"field":"text","type":"nominal"}}},
{"data":{"name":"notes"},"transform":[{"filter":"datum.panel == 2 && datum.kind == 'stat'"}],"mark":{"type":"text","align":"left","dy":9,"clip":true},"encoding":{"x":{"datum":0,"type":"quantitative","scale":{"domain":[-1,0,1,2,3,4,5,6,7],"range":[6,12,197,248,302,348,404,549,787],"nice":false,"zero":false},"axis":null},"y":{"field":"row","type":"quantitative","scale":{"domain":[-2.142857,26.485714],"reverse":true,"nice":false,"zero":false},"axis":null},"text":{"field":"text","type":"nominal"}}},
{"data":{"name":"reference"},"mark":{"type":"rule","color":"#000000","strokeWidth":1},"encoding":{"x":{"field":"or","type":"quantitative","scale":{"type":"log","domain":[0.01,100],"range":[560,774],"nice":false},"axis":null},"y":{"datum":-0.39,"type":"quantitative","scale":{"domain":[-2.142857,26.485714],"reverse":true,"nice":false,"zero":false},"axis":null},"y2":{"datum":24}}},
{"data":{"name":"ticks"},"mark":{"type":"rule","color":"#000000","strokeWidth":1},"encoding":{"x":{"aggregate":"min","field":"v","type":"quantitative","scale":{"type":"log","domain":[0.01,100],"range":[560,774],"nice":false},"axis":null},"x2":{"aggregate":"max","field":"v"},"y":{"datum":24,"type":"quantitative","scale":{"domain":[-2.142857,26.485714],"reverse":true,"nice":false,"zero":false},"axis":null}}},
{"data":{"name":"ticks"},"mark":{"type":"tick","orient":"vertical","size":8,"thickness":1,"color":"#000000"},"encoding":{"x":{"field":"v","type":"quantitative","scale":{"type":"log","domain":[0.01,100],"range":[560,774],"nice":false},"axis":null},"y":{"datum":24,"type":"quantitative","scale":{"domain":[-2.142857,26.485714],"reverse":true,"nice":false,"zero":false},"axis":null}}},
{"data":{"name":"ticks"},"transform":[{"filter":"datum.v > 0.01 && datum.v < 100"}],"mark":{"type":"text","align":"center","dy":19,"clip":true},"encoding":{"x":{"field":"v","type":"quantitative","scale":{"type":"log","domain":[0.01,100],"range":[560,774],"nice":false},"axis":null},"y":{"datum":24,"type":"quantitative","scale":{"domain":[-2.142857,26.485714],"reverse":true,"nice":false,"zero":false},"axis":null},"text":{"field":"v","type":"quantitative","format":"~g"}}},
{"data":{"name":"ticks"},"transform":[{"filter":"datum.v == 0.01"}],"mark":{"type":"text","align":"left","dy":19,"clip":true},"encoding":{"x":{"field":"v","type":"quantitative","scale":{"type":"log","domain":[0.01,100],"range":[560,774],"nice":false},"axis":null},"y":{"datum":24,"type":"quantitative","scale":{"domain":[-2.142857,26.485714],"reverse":true,"nice":false,"zero":false},"axis":null},"text":{"field":"v","type":"quantitative","format":"~g"}}},
{"data":{"name":"ticks"},"transform":[{"filter":"datum.v == 100"}],"mark":{"type":"text","align":"right","dy":19,"clip":true},"encoding":{"x":{"field":"v","type":"quantitative","scale":{"type":"log","domain":[0.01,100],"range":[560,774],"nice":false},"axis":null},"y":{"datum":24,"type":"quantitative","scale":{"domain":[-2.142857,26.485714],"reverse":true,"nice":false,"zero":false},"axis":null},"text":{"field":"v","type":"quantitative","format":"~g"}}},
{"data":{"name":"sides"},"transform":[{"filter":"datum.side == 'Experimental'"}],"mark":{"type":"text","align":"right","dx":-9,"dy":34,"clip":true},"encoding":{"x":{"datum":1,"type":"quantitative","scale":{"type":"log","domain":[0.01,100],"range":[560,774],"nice":false},"axis":null},"y":{"datum":24,"type":"quantitative","scale":{"domain":[-2.142857,26.485714],"reverse":true,"nice":false,"zero":false},"axis":null},"text":{"field":"side","type":"nominal"}}},
{"data":{"name":"sides"},"transform":[{"filter":"datum.side == 'Control'"}],"mark":{"type":"text","align":"left","dx":6,"dy":34,"clip":true},"encoding":{"x":{"datum":1,"type":"quantitative","scale":{"type":"log","domain":[0.01,100],"range":[560,774],"nice":false},"axis":null},"y":{"datum":24,"type":"quantitative","scale":{"domain":[-2.142857,26.485714],"reverse":true,"nice":false,"zero":false},"axis":null},"text":{"field":"side","type":"nominal"}}},
{"data":{"name":"studies"},"transform":[{"filter":"datum.panel == 2"}],"mark":{"type":"rule","color":"#000000","strokeWidth":1},"encoding":{"x":{"field":"lo","type":"quantitative","scale":{"type":"log","domain":[0.01,100],"range":[560,774],"nice":false},"axis":null},"x2":{"field":"hi"},"y":{"field":"row","type":"quantitative","scale":{"domain":[-2.142857,26.485714],"reverse":true,"nice":false,"zero":false},"axis":null}}},
{"data":{"name":"studies"},"transform":[{"filter":"datum.panel == 2"}],"mark":{"type":"square","filled":true,"color":"#0000CC","opacity":1},"encoding":{"x":{"field":"or","type":"quantitative","scale":{"type":"log","domain":[0.01,100],"range":[560,774],"nice":false},"axis":null},"y":{"field":"row","type":"quantitative","scale":{"domain":[-2.142857,26.485714],"reverse":true,"nice":false,"zero":false},"axis":null},"size":{"field":"w","type":"quantitative","scale":{"domain":[0,0.2],"range":[3,28]},"legend":null}}},
{"data":{"name":"pooled"},"transform":[{"filter":"datum.panel == 2"}],"mark":{"type":"point","filled":true,"color":"#000000","opacity":1,"size":225},"encoding":{"x":{"field":"or","type":"quantitative","scale":{"type":"log","domain":[0.01,100],"range":[560,774],"nice":false},"axis":null},"y":{"field":"row","type":"quantitative","scale":{"domain":[-2.142857,26.485714],"reverse":true,"nice":false,"zero":false},"axis":null},"shape":{"field":"id","type":"nominal","scale":{"domain":["p1a","p1b","p2a","p2b","tot"],"range":["M-0.967,0L0,-0.9L1.001,0L0,0.9Z","M-0.787,0L0,-0.9L0.796,0L0,0.9Z","M-0.84,0L0,-0.9L0.852,0L0,0.9Z","M-0.537,0L0,-0.9L0.528,0L0,0.9Z","M-0.605,0L0,-0.9L0.603,0L0,0.9Z"]},"legend":null}}}
]
}
]
}
